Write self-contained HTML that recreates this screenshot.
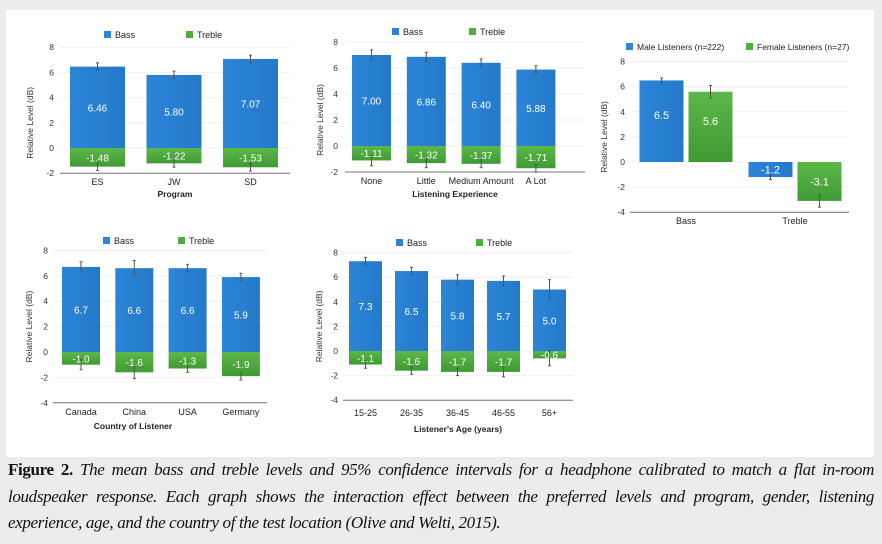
<!DOCTYPE html>
<html><head><meta charset="utf-8"><style>
body{margin:0;width:882px;height:544px;background:#ececec;overflow:hidden;font-family:"Liberation Sans",sans-serif}
#panel{position:absolute;left:6px;top:10px;width:868px;height:447px;background:#fff}
#cap{position:absolute;left:8px;top:457px;width:866px;font-family:"Liberation Serif",serif;font-style:italic;font-size:17px;line-height:26.5px;text-align:justify;color:#111;letter-spacing:-0.35px}
#cap b{font-style:normal}
svg{position:absolute;left:0;top:0}
</style></head><body>
<div id="panel"></div>
<svg id="svg" width="882" height="544">
<defs>
<linearGradient id="gb" x1="0" x2="1"><stop offset="0" stop-color="#2c85d8"/><stop offset="1" stop-color="#2479c9"/></linearGradient>
<linearGradient id="gg" x1="0" y1="0" x2="0" y2="1"><stop offset="0" stop-color="#5cb848"/><stop offset="1" stop-color="#3f9a34"/></linearGradient>
</defs>
</svg>
<div id="cap"><b>Figure 2.</b> The mean bass and treble levels and 95% confidence intervals for a headphone calibrated to match a flat in-room loudspeaker response. Each graph shows the interaction effect between the preferred levels and program, gender, listening experience, age, and the country of the test location (Olive and Welti, 2015).</div>
<script>
// Chart 1: Program
const progCats=["ES","JW","SD"];
const progBass=[6.46,5.80,7.07];
const progTreble=[-1.48,-1.22,-1.53];
const progBassErr=[0.3,0.3,0.3];
const progTrebleErr=[0.3,0.3,0.3];
const progTicks=[8,6,4,2,0,-2];
// Chart 2: Listening experience
const expCats=["None","Little","Medium Amount","A Lot"];
const expBass=[7.00,6.86,6.40,5.88];
const expTreble=[-1.11,-1.32,-1.37,-1.71];
const expBassErr=[0.4,0.35,0.3,0.3];
const expTrebleErr=[0.4,0.35,0.3,0.3];
const expTicks=[8,6,4,2,0,-2];
// Chart 3: Gender
const genCats=["Bass","Treble"];
const maleVals=[6.5,-1.2];
const femaleVals=[5.6,-3.1];
const maleErr=[0.2,0.2];
const femaleErr=[0.5,0.5];
const genTicks=[8,6,4,2,0,-2,-4];
// Chart 4: Country
const ctyCats=["Canada","China","USA","Germany"];
const ctyBass=[6.7,6.6,6.6,5.9];
const ctyTreble=[-1.0,-1.6,-1.3,-1.9];
const ctyBassErr=[0.4,0.6,0.3,0.3];
const ctyTrebleErr=[0.4,0.5,0.3,0.3];
const ctyTicks=[8,6,4,2,0,-2,-4];
// Chart 5: Age
const ageCats=["15-25","26-35","36-45","46-55","56+"];
const ageBass=[7.3,6.5,5.8,5.7,5.0];
const ageTreble=[-1.1,-1.6,-1.7,-1.7,-0.6];
const ageBassErr=[0.3,0.3,0.4,0.4,0.8];
const ageTrebleErr=[0.3,0.3,0.3,0.4,0.6];
const ageTicks=[8,6,4,2,0,-2,-4];

const svg=document.getElementById('svg');
const NS='http://www.w3.org/2000/svg';
function mk(tag,attrs,txt){const e=document.createElementNS(NS,tag);for(const k in attrs)e.setAttribute(k,attrs[k]);if(txt!==undefined)e.textContent=txt;svg.appendChild(e);return e;}
function fmt(v,d){return v.toFixed(d);}

function axes(L,ticks,cats,xOf,title,legend,prefix){
  const y=v=>L.zero-v*L.ppu;
  ticks.forEach(t=>{
    const g=mk('line',{x1:L.ax0,x2:L.ax1,y1:y(t),y2:y(t),stroke:'#f0f0f0','stroke-width':1});
    
    const tl=mk('text',{x:L.tickX,y:y(t)+3,'font-size':8.5,'text-anchor':'end',fill:'#333'},String(t));
    
  });
  const base=mk('line',{x1:L.ax0,x2:L.ax1,y1:y(ticks[ticks.length-1]),y2:y(ticks[ticks.length-1]),stroke:'#777','stroke-width':1});
  
  cats.forEach((c,i)=>{
    const t=mk('text',{x:xOf(i),y:L.catY,'font-size':L.catFs||9,'text-anchor':'middle',fill:'#222'},c);
    
  });
  if(title){const t=mk('text',{x:L.titleX,y:L.titleY,'font-size':8.5,'font-weight':'bold','text-anchor':'middle',fill:'#222'},title);
    }
  const yt=mk('text',{x:0,y:0,'font-size':8.5,'text-anchor':'middle',fill:'#333',transform:`translate(${L.yTitleX},${L.zero-2*L.ppu}) rotate(-90)`},'Relative Level (dB)');
  
  legend.forEach(l=>{
    const r=mk('rect',{x:l.x,y:L.legY-4,width:7,height:7,fill:l.c});
    
    const t=mk('text',{x:l.x+11,y:L.legY+3,'font-size':L.legFs||9,fill:'#222'},l.t);
    
  });
  return y;
}
function errbar(x,y1,y2,prefix){
  const e=mk('line',{x1:x,x2:x,y1:y1,y2:y2,stroke:'#555','stroke-width':1});
  
  [y1,y2].forEach(yy=>{const c=mk('line',{x1:x-1.5,x2:x+1.5,y1:yy,y2:yy,stroke:'#555','stroke-width':1});
    });
}
function stacked(L,cats,bass,treble,bErr,tErr,ticks,title,dec,prefix){
  const xOf=i=>L.c0+i*L.sp;
  const y=axes(L,ticks,cats,xOf,title,[{x:L.legB,c:'#2c85d8',t:'Bass'},{x:L.legT,c:'#4caf3e',t:'Treble'}],prefix);
  cats.forEach((c,i)=>{
    const x=xOf(i)-L.w/2;
    const b=mk('rect',{x:x,y:y(bass[i]),width:L.w,height:y(0)-y(bass[i]),fill:'url(#gb)'});
    
    const t=mk('rect',{x:x,y:y(0),width:L.w,height:y(treble[i])-y(0),fill:'url(#gg)'});
    
    errbar(xOf(i),y(bass[i]+bErr[i]),y(bass[i]-bErr[i]),prefix);
    errbar(xOf(i),y(treble[i]+tErr[i]),y(treble[i]-tErr[i]),prefix);
    const bl=mk('text',{x:xOf(i),y:y(bass[i]/2)+4,'font-size':10,'text-anchor':'middle',fill:'#fff'},fmt(bass[i],dec));
    
    const tl=mk('text',{x:xOf(i),y:y(treble[i]/2)+4,'font-size':10,'text-anchor':'middle',fill:'#fff'},fmt(treble[i],dec));
    
  });
}
stacked({zero:148,ppu:12.6,c0:97.5,sp:76.5,w:55,ax0:60,ax1:290,tickX:54,catY:185,titleX:175,titleY:197,yTitleX:33,legY:35,legB:104,legT:186},
  progCats,progBass,progTreble,progBassErr,progTrebleErr,progTicks,'Program',2,'program');
stacked({zero:146,ppu:13,c0:371.5,sp:54.8,w:39,ax0:345,ax1:585,tickX:338,catY:184,titleX:455,titleY:197,yTitleX:323,legY:32,legB:392,legT:469},
  expCats,expBass,expTreble,expBassErr,expTrebleErr,expTicks,'Listening Experience',2,'experience');
stacked({zero:352,ppu:12.7,c0:81,sp:53.3,w:38,ax0:53,ax1:267,tickX:48,catY:415,titleX:133,titleY:429,yTitleX:32,legY:241,legB:103,legT:178},
  ctyCats,ctyBass,ctyTreble,ctyBassErr,ctyTrebleErr,ctyTicks,'Country of Listener',1,'country');
stacked({zero:351,ppu:12.3,c0:365.5,sp:46,w:33,ax0:343,ax1:573,tickX:338,catY:416,titleX:458,titleY:432,yTitleX:322,legY:243,legB:396,legT:476},
  ageCats,ageBass,ageTreble,ageBassErr,ageTrebleErr,ageTicks,"Listener's Age (years)",1,'age');

// Gender chart
(function(){
  const L={zero:162,ppu:12.55,ax0:630,ax1:849,tickX:625,catY:224,yTitleX:607,legY:47,legFs:8.5};
  const gc=[686,795], w=44, off=24.5;
  const y=axes(L,genTicks,genCats,i=>gc[i],null,[{x:626,c:'#2c85d8',t:'Male Listeners (n=222)'},{x:746,c:'#4caf3e',t:'Female Listeners (n=27)'}],'gender');
  genCats.forEach((c,i)=>{
    [[maleVals,maleErr,'url(#gb)','male',-off],[femaleVals,femaleErr,'url(#gg)','female',off]].forEach(s=>{
      const v=s[0][i], cx=gc[i]+s[4];
      const top=Math.min(y(v),y(0)), h=Math.abs(y(v)-y(0));
      const r=mk('rect',{x:cx-w/2,y:top,width:w,height:h,fill:s[2]});
      
      errbar(cx,y(v+s[1][i]),y(v-s[1][i]),'gender');
      const t=mk('text',{x:cx,y:y(v/2)+(v>0?-2:4),'font-size':11,'text-anchor':'middle',fill:'#fff'},fmt(v,1));
      
    });
  });
})();
</script>
</body></html>
